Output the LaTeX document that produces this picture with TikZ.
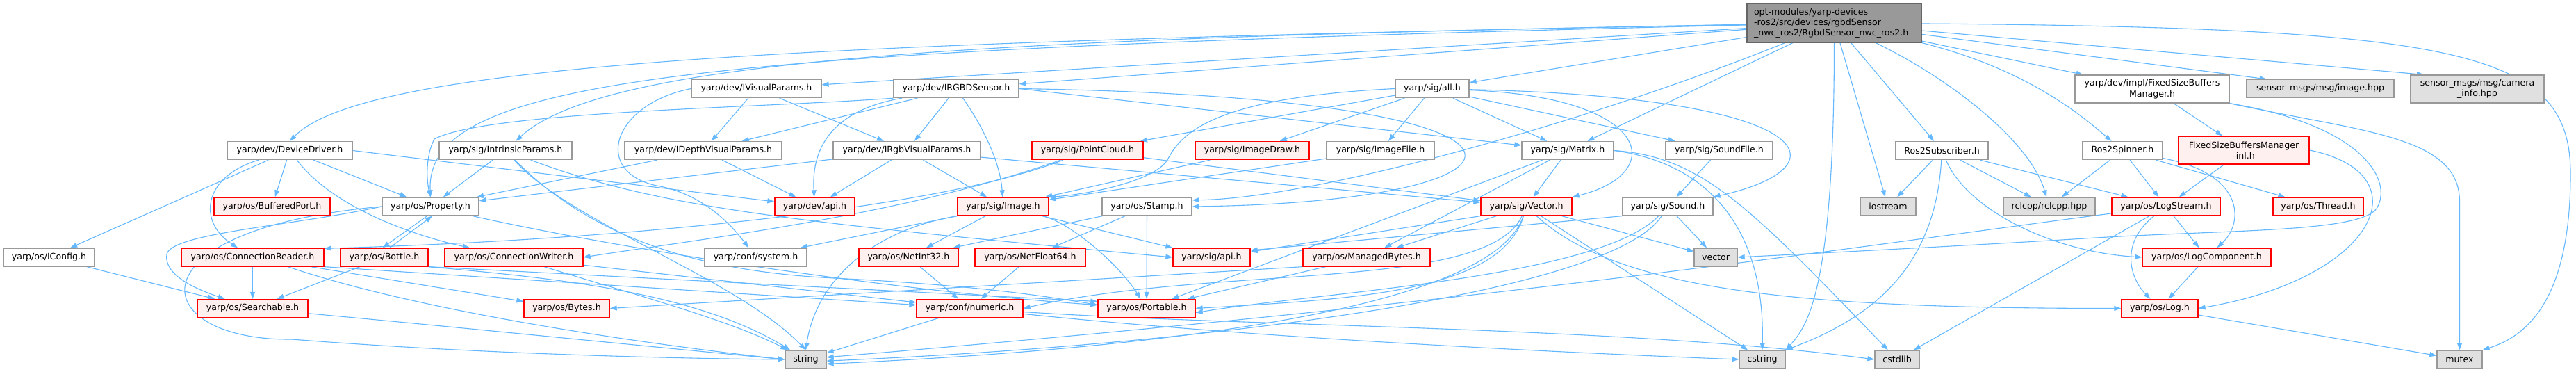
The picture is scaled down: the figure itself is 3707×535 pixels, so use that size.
\documentclass[tikz,border=0pt]{standalone}
\usepackage{fontspec}
\setmainfont{DejaVu Sans}
\usetikzlibrary{arrows.meta}
\pgfdeclarelayer{bg}
\pgfsetlayers{bg,main}
\definecolor{edgec}{HTML}{63B8FF}
\definecolor{redb}{HTML}{FF0000}
\definecolor{redf}{HTML}{FFF0F0}
\definecolor{grayb}{HTML}{999999}
\definecolor{extf}{HTML}{E0E0E0}
\definecolor{topf}{HTML}{999999}
\definecolor{topb}{HTML}{666666}
\begin{document}
\begin{tikzpicture}[x=1pt,y=-1pt,
  nbase/.style={rectangle, inner sep=0pt, line width=1.3pt, font=\fontsize{12.6}{15.2}\selectfont, align=center, minimum height=26pt, text=black},
  wn/.style={nbase, draw=grayb, fill=white},
  rn/.style={nbase, draw=redb, fill=redf},
  xn/.style={nbase, draw=grayb, fill=extf},
  tn/.style={nbase, draw=topb, fill=topf},
  bw/.style={minimum width=#1pt},
  two/.style={minimum height=40pt},
  ed/.style={draw=edgec, line width=1.1pt, -{Triangle[length=10pt,width=7pt]}},
]
\begin{pgfonlayer}{bg}
\fill[white] (0,0) rectangle (3707,535);
\end{pgfonlayer}
\useasboundingbox (0,0) rectangle (3707,535);
% ---------- nodes ----------
\node[tn, bw=251, minimum height=56pt, text width=231pt, align=left] (top) at (2639.5,33) {opt-modules/yarp-devices\\-ros2/src/devices/rgbdSensor\\\_nwc\_ros2/RgbdSensor\_nwc\_ros2.h};
% row 1
\node[wn, bw=187] (IVP) at (1088.5,127.5) {yarp/dev/IVisualParams.h};
\node[wn, bw=180] (IRGBD) at (1376,127.5) {yarp/dev/IRGBDSensor.h};
\node[wn, bw=106] (all) at (2061,127.5) {yarp/sig/all.h};
\node[wn, bw=222, two] (FSBM) at (3097,128) {yarp/dev/impl/FixedSizeBuffers\\Manager.h};
\node[xn, bw=212] (imghpp) at (3339,127.5) {sensor\_msgs/msg/image.hpp};
\node[xn, bw=192, two] (caminfo) at (3565,128) {sensor\_msgs/msg/camera\\\_info.hpp};
% row 2
\node[wn, bw=180] (DD) at (417,216.5) {yarp/dev/DeviceDriver.h};
\node[wn, bw=191] (IP) at (727.5,216.5) {yarp/sig/IntrinsicParams.h};
\node[wn, bw=226] (IDVP) at (1012,216.5) {yarp/dev/IDepthVisualParams.h};
\node[wn, bw=212] (IRVP) at (1305,216.5) {yarp/dev/IRgbVisualParams.h};
\node[rn, bw=160] (PC) at (1565,216.5) {yarp/sig/PointCloud.h};
\node[rn, bw=164] (ID) at (1802,216.5) {yarp/sig/ImageDraw.h};
\node[wn, bw=155] (IF) at (1986.5,216.5) {yarp/sig/ImageFile.h};
\node[wn, bw=132] (Mat) at (2256,216.5) {yarp/sig/Matrix.h};
\node[wn, bw=154] (SF) at (2474,216.5) {yarp/sig/SoundFile.h};
\node[wn, bw=133] (R2S) at (2794.5,216.5) {Ros2Subscriber.h};
\node[wn, bw=115] (R2Sp) at (3054.5,216.5) {Ros2Spinner.h};
\node[rn, bw=188, two] (FSBMinl) at (3229,216) {FixedSizeBuffersManager\\-inl.h};
% row 3
\node[rn, bw=167] (BP) at (391.5,297) {yarp/os/BufferedPort.h};
\node[wn, bw=139] (Prop) at (619.5,297) {yarp/os/Property.h};
\node[rn, bw=115] (devapi) at (1172.5,297) {yarp/dev/api.h};
\node[rn, bw=131] (Img) at (1443.5,297) {yarp/sig/Image.h};
\node[wn, bw=129] (Stamp) at (1650.5,297) {yarp/os/Stamp.h};
\node[rn, bw=131] (Vec) at (2196.5,297) {yarp/sig/Vector.h};
\node[wn, bw=130] (Snd) at (2400,297) {yarp/sig/Sound.h};
\node[xn, bw=80] (iostream) at (2717,297) {iostream};
\node[xn, bw=132] (rclcpp) at (2949,297) {rclcpp/rclcpp.hpp};
\node[rn, bw=156] (LogS) at (3117,297) {yarp/os/LogStream.h};
\node[rn, bw=130] (Thr) at (3336,297) {yarp/os/Thread.h};
% row 4
\node[wn, bw=131] (IConf) at (70.5,370) {yarp/os/IConfig.h};
\node[rn, bw=205] (CR) at (363.5,370) {yarp/os/ConnectionReader.h};
\node[rn, bw=126] (Bot) at (553,370) {yarp/os/Bottle.h};
\node[rn, bw=199] (CW) at (739.5,370) {yarp/os/ConnectionWriter.h};
\node[wn, bw=147] (sys) at (1087.5,370) {yarp/conf/system.h};
\node[rn, bw=143] (NI32) at (1307.5,370) {yarp/os/NetInt32.h};
\node[rn, bw=159] (NF64) at (1482.5,370) {yarp/os/NetFloat64.h};
\node[rn, bw=111] (sigapi) at (1743.5,370) {yarp/sig/api.h};
\node[rn, bw=183] (MB) at (1966.5,370) {yarp/os/ManagedBytes.h};
\node[xn, bw=62] (vector) at (2469,370) {vector};
\node[rn, bw=185] (LogC) at (3175.5,370) {yarp/os/LogComponent.h};
% row 5
\node[rn, bw=159] (Search) at (363.5,443.5) {yarp/os/Searchable.h};
\node[rn, bw=123] (Bytes) at (815.5,443.5) {yarp/os/Bytes.h};
\node[rn, bw=153] (numeric) at (1395.5,443.5) {yarp/conf/numeric.h};
\node[rn, bw=140] (Port) at (1650,443.5) {yarp/os/Portable.h};
\node[rn, bw=110] (Log) at (3108,443.5) {yarp/os/Log.h};
% row 6
\node[xn, bw=59] (string) at (1159.5,517) {string};
\node[xn, bw=66] (cstring) at (2536,517) {cstring};
\node[xn, bw=64] (cstdlib) at (2730,517) {cstdlib};
\node[xn, bw=65] (mutex) at (3539.5,517) {mutex};
% ---------- edges ----------
\begin{pgfonlayer}{bg}
% top node
\draw[ed] (top) .. controls (1200,60) and (530,88) .. (DD.north);
\draw[ed] (top) .. controls (1000,72) and (612,110) .. (Prop.north);
\draw[ed] (top) .. controls (1400,55) and (870,85) .. (IP);
\draw[ed] (top) -- (IVP);
\draw[ed] (top) -- (IRGBD);
\draw[ed] (top) -- (all);
\draw[ed] (top) -- (Mat);
\draw[ed] (top) .. controls (2300,170) and (1900,285) .. (Stamp.8);
\draw[ed] (top.south) .. controls (2639.5,420) and (2600,470) .. (cstring.north east);
\draw[ed] (top) -- (iostream);
\draw[ed] (top) -- (R2S);
\draw[ed] (top) .. controls (2800,110) and (2920,200) .. (rclcpp);
\draw[ed] (top) -- (FSBM);
\draw[ed] (top.south east) .. controls (2920,100) and (3000,170) .. (R2Sp);
\draw[ed] (top) -- (imghpp.170);
\draw[ed] (top) -- (caminfo.165);
\draw[ed] (top) .. controls (3550,40) and (3699,75) .. (3699,250) .. controls (3699,440) and (3630,485) .. (mutex.north east);
% IVisualParams
\draw[ed] (IVP) -- (IDVP);
\draw[ed] (IVP) -- (IRVP);
\draw[ed] (IVP.west) .. controls (880,150) and (850,250) .. (950,268) .. controls (1010,280) and (1050,320) .. (sys);
% IRGBDSensor
\draw[ed] (IRGBD) -- (IRVP);
\draw[ed] (IRGBD) -- (IDVP);
\draw[ed] (IRGBD) .. controls (1420,190) and (1440,240) .. (Img);
\draw[ed] (IRGBD.east) .. controls (2300,140) and (2250,290) .. (Stamp.east);
\draw[ed] (IRGBD.east) -- (Mat);
\draw[ed] (IRGBD) .. controls (1190,160) and (1168,220) .. (devapi);
\draw[ed] (IRGBD.south west) .. controls (1100,155) and (700,160) .. (625,200) .. controls (612,225) and (614,260) .. (Prop.north);
% all.h
\draw[ed] (all.west) .. controls (1750,140) and (1700,190) .. (1680,230) .. controls (1660,262) and (1560,280) .. (Img.north east);
\draw[ed] (all) -- (ID);
\draw[ed] (all) -- (IF);
\draw[ed] (all) -- (Mat);
\draw[ed] (all) -- (PC);
\draw[ed] (all) .. controls (2620,140) and (2660,240) .. (Snd.north east);
\draw[ed] (all) -- (SF);
\draw[ed] (all) .. controls (2380,140) and (2400,250) .. (Vec.north east);
% FixedSizeBuffersManager
\draw[ed] (FSBM) -- (FSBMinl);
\draw[ed] (FSBM.south east) .. controls (3400,180) and (3445,260) .. (3420,300) .. controls (3395,335) and (3200,330) .. (3000,343) .. controls (2800,355) and (2600,365) .. (vector.east);
\draw[ed] (FSBM.south east) .. controls (3400,190) and (3539.5,195) .. (3539.5,290) -- (mutex.north);
% DeviceDriver
\draw[ed] (DD) -- (IConf);
\draw[ed] (DD) -- (BP);
\draw[ed] (DD) .. controls (290,255) and (285,320) .. (CR);
\draw[ed] (DD) -- (Prop);
\draw[ed] (DD) .. controls (480,300) and (600,340) .. (CW);
\draw[ed] (DD.east) -- (devapi);
% IntrinsicParams
\draw[ed] (IP) -- (Prop);
\draw[ed] (IP) .. controls (950,300) and (1150,320) .. (sigapi.west);
\draw[ed] (IP) .. controls (850,340) and (1000,390) .. (1200,400) .. controls (1400,410) and (1500,425) .. (Port.176);
\draw[ed] (IP) .. controls (820,320) and (1060,400) .. (string.north);
% IDepthVisualParams
\draw[ed] (IDVP) -- (Prop);
\draw[ed] (IDVP) -- (devapi);
% IRgbVisualParams
\draw[ed] (IRVP) -- (devapi);
\draw[ed] (IRVP) -- (Img);
\draw[ed] (IRVP) -- (Prop);
\draw[ed] (IRVP) -- (Vec);
% PointCloud
\draw[ed] (PC) .. controls (1350,300) and (900,345) .. (CR.7);
\draw[ed] (PC) .. controls (1300,310) and (1000,345) .. (CW.east);
\draw[ed] (PC) -- (Vec);
% ImageDraw, ImageFile
\draw[ed] (ID) -- (Img);
\draw[ed] (IF) -- (Img);
% Matrix
\draw[ed] (Mat) -- (Vec);
\draw[ed] (Mat) -- (MB);
\draw[ed] (Mat) -- (Port);
\draw[ed] (Mat.east) .. controls (2460,235) and (2540,330) .. (cstring.north);
\draw[ed] (Mat.east) .. controls (2450,225) and (2520,300) .. (cstdlib);
% SoundFile
\draw[ed] (SF) -- (Snd);
% Ros2Subscriber
\draw[ed] (R2S) -- (iostream);
\draw[ed] (R2S) -- (rclcpp);
\draw[ed] (R2S) -- (LogS);
\draw[ed] (R2S) .. controls (2830,300) and (2950,362) .. (LogC.west);
\draw[ed] (R2S) .. controls (2785,380) and (2700,455) .. (cstring.north east);
% Ros2Spinner
\draw[ed] (R2Sp) -- (rclcpp);
\draw[ed] (R2Sp) -- (LogS);
\draw[ed] (R2Sp) .. controls (3230,250) and (3230,320) .. (LogC);
\draw[ed] (R2Sp) -- (Thr);
% FixedSizeBuffersManager-inl
\draw[ed] (FSBMinl) -- (LogS);
\draw[ed] (FSBMinl.east) .. controls (3490,250) and (3420,400) .. (Log.east);
% Property
\draw[ed] (Prop.250) -- (Bot.100);
\draw[ed] (Bot.60) -- (Prop.280);
\draw[ed] (Prop.west) .. controls (420,325) and (250,335) .. (240,365) .. controls (235,395) and (280,415) .. (Search);
\draw[ed] (Prop.west) .. controls (180,330) and (210,490) .. (420,488) .. controls (700,510) and (1000,516) .. (string.west);
\draw[ed] (Prop) .. controls (900,360) and (1300,420) .. (Port.176);
% Image
\draw[ed] (Img) -- (NI32);
\draw[ed] (Img) .. controls (1540,320) and (1610,380) .. (Port);
\draw[ed] (Img) -- (sigapi);
\draw[ed] (Img.south west) -- (sys.12);
\draw[ed] (Img.south west) .. controls (1260,330) and (1175,400) .. (string.north);
% Stamp
\draw[ed] (Stamp) -- (NI32);
\draw[ed] (Stamp) -- (NF64);
\draw[ed] (Stamp) -- (Port);
% Vector
\draw[ed] (Vec) -- (MB);
\draw[ed] (Vec.south west) -- (sigapi.8);
\draw[ed] (Vec) .. controls (2160,420) and (1950,430) .. (Port.east);
\draw[ed] (Vec) .. controls (2140,420) and (1750,380) .. (numeric.east);
\draw[ed] (Vec) .. controls (2150,440) and (1700,500) .. (string.-12);
\draw[ed] (Vec) -- (cstring);
\draw[ed] (Vec) -- (vector);
\draw[ed] (Vec) .. controls (2330,420) and (2600,443.5) .. (Log.west);
% Sound
\draw[ed] (Snd) -- (vector);
\draw[ed] (Snd.south west) -- (sigapi.10);
\draw[ed] (Snd) .. controls (2300,400) and (1900,420) .. (Port.-5);
\draw[ed] (Snd) .. controls (2320,420) and (1750,495) .. (string.-4);
% LogStream
\draw[ed] (LogS) -- (LogC);
\draw[ed] (LogS) .. controls (3050,350) and (3065,400) .. (Log);
\draw[ed] (LogS) .. controls (2700,350) and (2200,430) .. (string.6);
\draw[ed] (LogS) -- (cstdlib);
% ConnectionReader
\draw[ed] (CR) -- (Search);
\draw[ed] (CR) -- (Bytes);
\draw[ed] (CR.south east) -- (numeric);
\draw[ed] (CR.-15) .. controls (550,430) and (800,480) .. (string.west);
% Bottle
\draw[ed] (Bot) -- (Search);
\draw[ed] (Bot.south east) -- (Port.172);
\draw[ed] (Bot.south east) .. controls (800,400) and (1000,420) .. (string);
% ConnectionWriter
\draw[ed] (CW) -- (numeric);
\draw[ed] (CW) .. controls (900,420) and (1050,460) .. (string);
% IConfig
\draw[ed] (IConf) -- (Search);
% NetInt32 / NetFloat64
\draw[ed] (NI32) -- (numeric);
\draw[ed] (NF64) -- (numeric);
% ManagedBytes
\draw[ed] (MB.south west) -- (Bytes.east);
\draw[ed] (MB) -- (Port);
% LogComponent, Log
\draw[ed] (LogC) -- (Log);
\draw[ed] (Log) -- (mutex);
% Searchable
\draw[ed] (Search) .. controls (600,465) and (900,495) .. (string.west);
% numeric
\draw[ed] (numeric) -- (string);
\draw[ed] (numeric) .. controls (1800,485) and (2200,505) .. (cstring.west);
\draw[ed] (numeric) .. controls (1800,470) and (2350,470) .. (cstdlib.west);
\end{pgfonlayer}
\end{tikzpicture}
\end{document}
